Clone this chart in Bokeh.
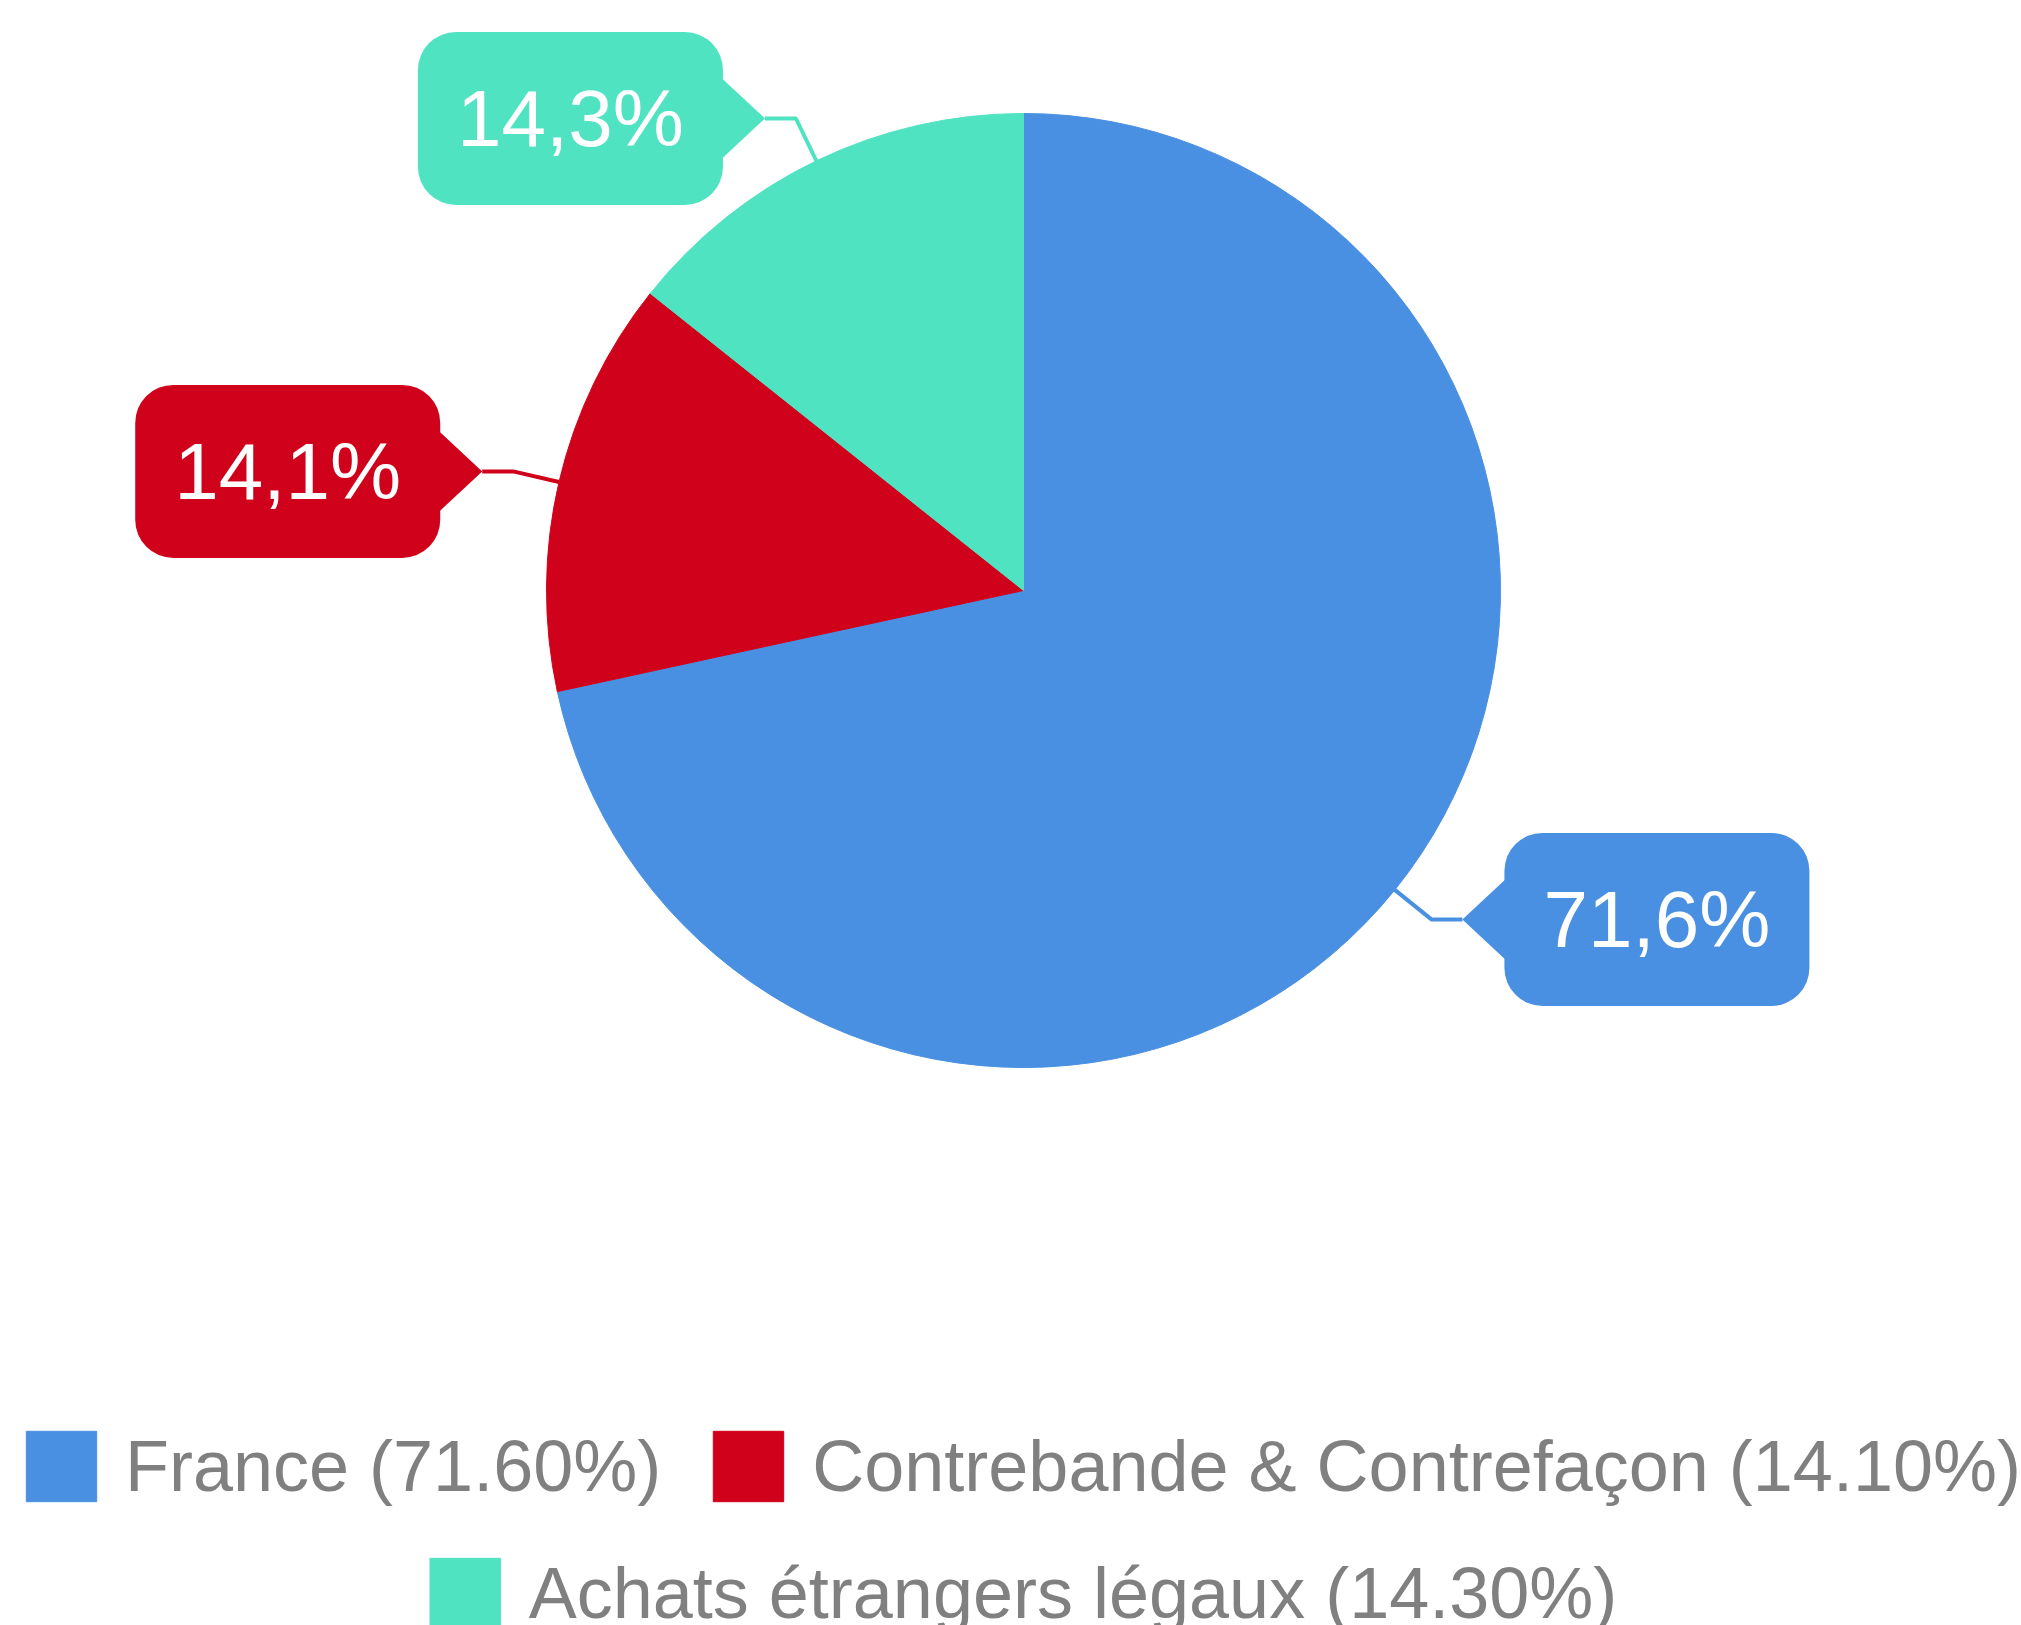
import math
from bokeh.plotting import figure
from bokeh.models import ColumnDataSource, Legend, LegendItem, Range1d
from bokeh.core.properties import value
from bokeh.embed import file_html
from bokeh.resources import INLINE

# ---- data ----
categories = ["France", "Contrebande & Contrefaçon", "Achats étrangers légaux"]
shares = [71.6, 14.1, 14.3]
colors = ["#4A90E2", "#D0021B", "#50E3C2"]

# ---- layout parameters (pixels) ----
W, H = 2021, 1625
LEFT_PAD = 17
CX, CY = 1023, H - 590
R = 477
LEAD = 47          # radial leader length
HSEG = 31          # horizontal leader length
PTR = 42           # callout pointer length
BOX_W, BOX_H = 305, 173
LABEL_FS = 80
LEG_FS = 72

total = sum(shares)
starts, ends, mids = [], [], []
cum = 0.0
for v in shares:
    a0 = 90 - (cum + v) / total * 360
    a1 = 90 - cum / total * 360
    starts.append(math.radians(a0))
    ends.append(math.radians(a1))
    mids.append(math.radians((a0 + a1) / 2))
    cum += v

src = ColumnDataSource(dict(start=starts, end=ends, color=colors,
                            cat=categories, share=shares))

p = figure(width=W, height=H, x_range=Range1d(LEFT_PAD, W), y_range=Range1d(0, H),
           x_axis_type=None, y_axis_type=None, toolbar_location=None,
           output_backend="svg", min_border=0, min_border_left=LEFT_PAD,
           outline_line_color=None,
           background_fill_color="white", border_fill_color="white")
p.grid.visible = False

wr = p.wedge(x=CX, y=CY, radius=R, start_angle="start", end_angle="end",
             fill_color="color", line_color="color", line_width=1, source=src)

# ---- callouts ----
lx, ly = [], []
box_l, box_r, box_t, box_b = [], [], [], []
tri_x, tri_y = [], []
txt_x, txt_y, txt = [], [], []
for v, m, c in zip(shares, mids, colors):
    cs, sn = math.cos(m), math.sin(m)
    ex, ey = CX + R * cs, CY + R * sn
    bx, by = CX + (R + LEAD) * cs, CY + (R + LEAD) * sn
    side = 1 if cs >= 0 else -1
    tx, ty = bx + side * HSEG, by
    lx.append([ex, bx, tx])
    ly.append([ey, by, ty])
    if side < 0:
        r_ = tx - PTR
        l_ = r_ - BOX_W
    else:
        l_ = tx + PTR
        r_ = l_ + BOX_W
    box_l.append(l_); box_r.append(r_)
    box_t.append(ty + BOX_H / 2); box_b.append(ty - BOX_H / 2)
    base_x = (r_ if side < 0 else l_) + side * 3
    tri_x.append([tx, base_x, base_x])
    tri_y.append([ty, ty + PTR, ty - PTR])
    txt_x.append((l_ + r_) / 2)
    txt_y.append(ty)
    txt.append(f"{v:.1f}".replace(".", ",") + "%")

p.multi_line(xs=lx, ys=ly, line_color=colors, line_width=4)
p.quad(left=box_l, right=box_r, top=box_t, bottom=box_b, fill_color=colors,
       line_color=None, border_radius=38)
p.patches(xs=tri_x, ys=tri_y, fill_color=colors, line_color=None)
p.text(x=txt_x, y=txt_y, text=txt, text_color="white",
       text_font=value("Liberation Sans"), text_font_size=value(f"{LABEL_FS}px"),
       text_align="center", text_baseline="middle")

# ---- legends ----
leg_labels = [f"{c} ({v:.2f}%)" for c, v in zip(categories, shares)]
common = dict(orientation="horizontal", glyph_width=88, glyph_height=88,
              label_standoff=20, spacing=43, padding=0,
              border_line_color=None, background_fill_alpha=0,
              label_text_font="Liberation Sans",
              label_text_font_size=f"{LEG_FS}px",
              label_text_color="#808080", location="bottom_center")
leg1 = Legend(items=[LegendItem(label=leg_labels[i], renderers=[wr], index=i) for i in (0, 1)],
              margin=115, **common)
leg2 = Legend(items=[LegendItem(label=leg_labels[2], renderers=[wr], index=2)],
              margin=-12, **common)
p.add_layout(leg1)
p.add_layout(leg2)

open("out.html", "w").write(file_html(p, INLINE))
